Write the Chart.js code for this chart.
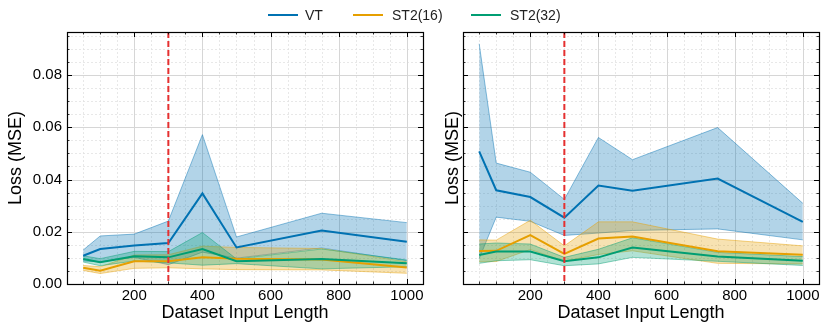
<!DOCTYPE html>
<html><head><meta charset="utf-8">
<script src="https://cdn.jsdelivr.net/npm/chart.js@4"></script>
<style>
html,body{margin:0;padding:0;background:#fff;}
#wrap{position:relative;width:830px;height:334px;overflow:hidden;font-family:"Liberation Sans",Arial,sans-serif;}
#b1{position:absolute;left:0;top:0;width:430px;height:334px;}
#b2{position:absolute;left:430px;top:0;width:400px;height:334px;}
.li{position:absolute;top:6px;height:18px;line-height:18px;font-size:14px;color:#222;}
.ln{position:absolute;top:14px;width:30px;height:2px;}
</style></head>
<body><div id="wrap">
<div id="b1"><canvas id="c1"></canvas></div>
<div id="b2"><canvas id="c2"></canvas></div>
<div class="ln" style="left:268px;background:#0072B2"></div><div class="li" style="left:305px">VT</div>
<div class="ln" style="left:353px;background:#E69F00"></div><div class="li" style="left:392px">ST2(16)</div>
<div class="ln" style="left:471px;background:#009E73"></div><div class="li" style="left:510px">ST2(32)</div>
</div>
<script>
// ---- data ----
const inputLengths = [50, 100, 200, 300, 400, 500, 750, 1000];
const cutoffLength = 300;
const xTickValues = [200, 400, 600, 800, 1000];
const yTickValues = [0, 0.02, 0.04, 0.06, 0.08];
const seriesNames = ['VT', 'ST2(16)', 'ST2(32)'];

// left panel
const leftVT      = [0.0108, 0.0134, 0.0147, 0.0157, 0.0347, 0.0140, 0.0205, 0.0162];
const leftVTHigh  = [0.0130, 0.0184, 0.0191, 0.0241, 0.0572, 0.0180, 0.0271, 0.0235];
const leftVTLow   = [0.0088, 0.0085, 0.0102, 0.0074, 0.0122, 0.0099, 0.0138, 0.0089];
const leftS16     = [0.0062, 0.0051, 0.0087, 0.0087, 0.0102, 0.0097, 0.0094, 0.0063];
const leftS16High = [0.0071, 0.0066, 0.0111, 0.0112, 0.0145, 0.0140, 0.0136, 0.0085];
const leftS16Low  = [0.0052, 0.0040, 0.0060, 0.0062, 0.0058, 0.0055, 0.0054, 0.0041];
const leftS32     = [0.0096, 0.0083, 0.0106, 0.0102, 0.0134, 0.0087, 0.0096, 0.0079];
const leftS32High = [0.0108, 0.0097, 0.0125, 0.0124, 0.0197, 0.0096, 0.0134, 0.0092];
const leftS32Low  = [0.0084, 0.0070, 0.0088, 0.0081, 0.0072, 0.0078, 0.0058, 0.0066];

// right panel
const rightVT      = [0.0508, 0.0359, 0.0333, 0.0254, 0.0377, 0.0357, 0.0404, 0.0238];
const rightVTHigh  = [0.0920, 0.0463, 0.0428, 0.0324, 0.0561, 0.0476, 0.0599, 0.0309];
const rightVTLow   = [0.0097, 0.0256, 0.0240, 0.0186, 0.0195, 0.0205, 0.0211, 0.0169];
const rightS16     = [0.0126, 0.0127, 0.0187, 0.0115, 0.0174, 0.0182, 0.0125, 0.0112];
const rightS16High = [0.0169, 0.0168, 0.0244, 0.0146, 0.0238, 0.0238, 0.0172, 0.0146];
const rightS16Low  = [0.0085, 0.0086, 0.0132, 0.0087, 0.0113, 0.0127, 0.0079, 0.0077];
const rightS32     = [0.0111, 0.0124, 0.0124, 0.0087, 0.0102, 0.0140, 0.0105, 0.0089];
const rightS32High = [0.0153, 0.0157, 0.0153, 0.0102, 0.0133, 0.0177, 0.0121, 0.0105];
const rightS32Low  = [0.0079, 0.0089, 0.0093, 0.0070, 0.0077, 0.0102, 0.0087, 0.0071];

// ---- styling ----
const FONT = '"Liberation Sans", Arial, sans-serif';
const colors = [[0,114,178],[230,159,0],[0,158,115]];
const rgba = (c,a) => `rgba(${c[0]},${c[1]},${c[2]},${a})`;
const X_MIN = 2.5, X_MAX = 1047.5, Y_MIN = 0, Y_MAX = 0.0965;

const pts = arr => inputLengths.map((x,i) => ({x, y: arr[i]}));

function buildDatasets(means, highs, lows) {
  const ds = [];
  means.forEach((m, k) => {
    ds.push({label: seriesNames[k]+' hi', data: pts(highs[k]), fill: '+1', order: 6-k,
      backgroundColor: rgba(colors[k],0.3), borderColor: rgba(colors[k],0.45), borderWidth: 1,
      pointRadius: 0, tension: 0});
    ds.push({label: seriesNames[k]+' lo', data: pts(lows[k]), fill: false, order: 6-k,
      borderColor: rgba(colors[k],0.45), borderWidth: 1, pointRadius: 0, tension: 0});
  });
  means.forEach((m, k) => {
    ds.push({label: seriesNames[k], data: pts(m), fill: false, order: 3-k,
      borderColor: rgba(colors[k],1), borderWidth: 2, pointRadius: 0, tension: 0});
  });
  return ds;
}

function range(a, b, s) { const r=[]; for (let v=a; v<=b+1e-9; v+=s) r.push(+v.toFixed(6)); return r; }
const xMinor = range(50, 1000, 50).filter(v => !xTickValues.includes(v));
const yMinor = range(0.005, 0.095, 0.005).filter(v => !yTickValues.some(t => Math.abs(t-v)<1e-9));

const decor = {
  id: 'decor',
  beforeDatasetsDraw(chart) {
    const {ctx, chartArea: a, scales: {x, y}} = chart;
    ctx.save();
    ctx.lineWidth = 0.8; ctx.strokeStyle = '#e2e2e2'; ctx.setLineDash([2,2]);
    ctx.beginPath();
    xMinor.forEach(v => { const p = Math.round(x.getPixelForValue(v))+0.5; ctx.moveTo(p, a.top); ctx.lineTo(p, a.bottom); });
    yMinor.forEach(v => { const p = Math.round(y.getPixelForValue(v))+0.5; ctx.moveTo(a.left, p); ctx.lineTo(a.right, p); });
    ctx.stroke();
    ctx.setLineDash([]); ctx.lineWidth = 1; ctx.strokeStyle = '#d6d6d6';
    ctx.beginPath();
    xTickValues.forEach(v => { const p = Math.round(x.getPixelForValue(v))+0.5; ctx.moveTo(p, a.top); ctx.lineTo(p, a.bottom); });
    yTickValues.forEach(v => { if (v <= Y_MIN) return; const p = Math.round(y.getPixelForValue(v))+0.5; ctx.moveTo(a.left, p); ctx.lineTo(a.right, p); });
    ctx.stroke();
    ctx.restore();
  },
  afterDatasetsDraw(chart) {
    const {ctx, chartArea: a, scales: {x, y}} = chart;
    ctx.save();
    const cx = x.getPixelForValue(cutoffLength);
    ctx.strokeStyle = '#e53030'; ctx.lineWidth = 2; ctx.setLineDash([6,3]);
    ctx.beginPath(); ctx.moveTo(cx, a.top); ctx.lineTo(cx, a.bottom); ctx.stroke();
    ctx.setLineDash([]);
    ctx.strokeStyle = '#000';
    const tick = (vals, len, w) => {
      ctx.lineWidth = w; ctx.beginPath();
      vals.forEach(v => {
        const p = Math.round(x.getPixelForValue(v))+0.5;
        ctx.moveTo(p, a.bottom); ctx.lineTo(p, a.bottom-len);
        ctx.moveTo(p, a.top); ctx.lineTo(p, a.top+len);
      });
      ctx.stroke();
    };
    const ticky = (vals, len, w) => {
      ctx.lineWidth = w; ctx.beginPath();
      vals.forEach(v => {
        const p = Math.round(y.getPixelForValue(v))+0.5;
        ctx.moveTo(a.left, p); ctx.lineTo(a.left+len, p);
        ctx.moveTo(a.right, p); ctx.lineTo(a.right-len, p);
      });
      ctx.stroke();
    };
    tick(xTickValues, 5, 1); tick(xMinor, 2.5, 0.8);
    ticky(yTickValues, 5, 1); ticky(yMinor, 2.5, 0.8);
    ctx.lineWidth = 1.2; ctx.strokeStyle = '#000';
    ctx.strokeRect(Math.round(a.left)+0.5, Math.round(a.top)+0.5, Math.round(a.right-a.left), Math.round(a.bottom-a.top));
    ctx.restore();
  }
};

function makeChart(id, datasets, cfg) {
  return new Chart(document.getElementById(id), {
    type: 'line',
    data: {datasets},
    plugins: [decor],
    options: {
      responsive: true, maintainAspectRatio: false, animation: false,
      layout: {padding: {top: 32, bottom: 0, left: 0, right: cfg.padRight}},
      plugins: {legend: {display: false}, tooltip: {enabled: false}},
      scales: {
        x: {type: 'linear', min: X_MIN, max: X_MAX,
          afterBuildTicks: s => { s.ticks = xTickValues.map(v => ({value: v})); },
          ticks: {autoSkip: false, maxRotation: 0, color: '#000', padding: 3, font: {family: FONT, size: 15}, callback: v => String(v)},
          grid: {display: false, drawTicks: false}, border: {display: false},
          title: {display: true, text: 'Dataset Input Length', color: '#000', font: {family: FONT, size: 18}, padding: {top: 10, bottom: 10}},
          afterFit: s => { s.height = 50; }},
        y: {type: 'linear', min: Y_MIN, max: Y_MAX,
          afterBuildTicks: s => { s.ticks = yTickValues.map(v => ({value: v})); },
          ticks: {display: cfg.showY, color: '#000', padding: 5, font: {family: FONT, size: 15}, callback: v => v.toFixed(2)},
          grid: {display: false, drawTicks: false}, border: {display: false},
          title: {display: true, text: 'Loss (MSE)', color: '#000', font: {family: FONT, size: 18}, padding: {top: cfg.titlePad, bottom: cfg.titlePad}},
          afterFit: s => { s.width = cfg.yWidth; }}
      }
    }
  });
}

makeChart('c1', buildDatasets([leftVT, leftS16, leftS32], [leftVTHigh, leftS16High, leftS32High], [leftVTLow, leftS16Low, leftS32Low]),
  {padRight: 7, yWidth: 67, showY: true, titlePad: 5});
makeChart('c2', buildDatasets([rightVT, rightS16, rightS32], [rightVTHigh, rightS16High, rightS32High], [rightVTLow, rightS16Low, rightS32Low]),
  {padRight: 11, yWidth: 33, showY: false, titlePad: 12});
</script>
</body></html>
